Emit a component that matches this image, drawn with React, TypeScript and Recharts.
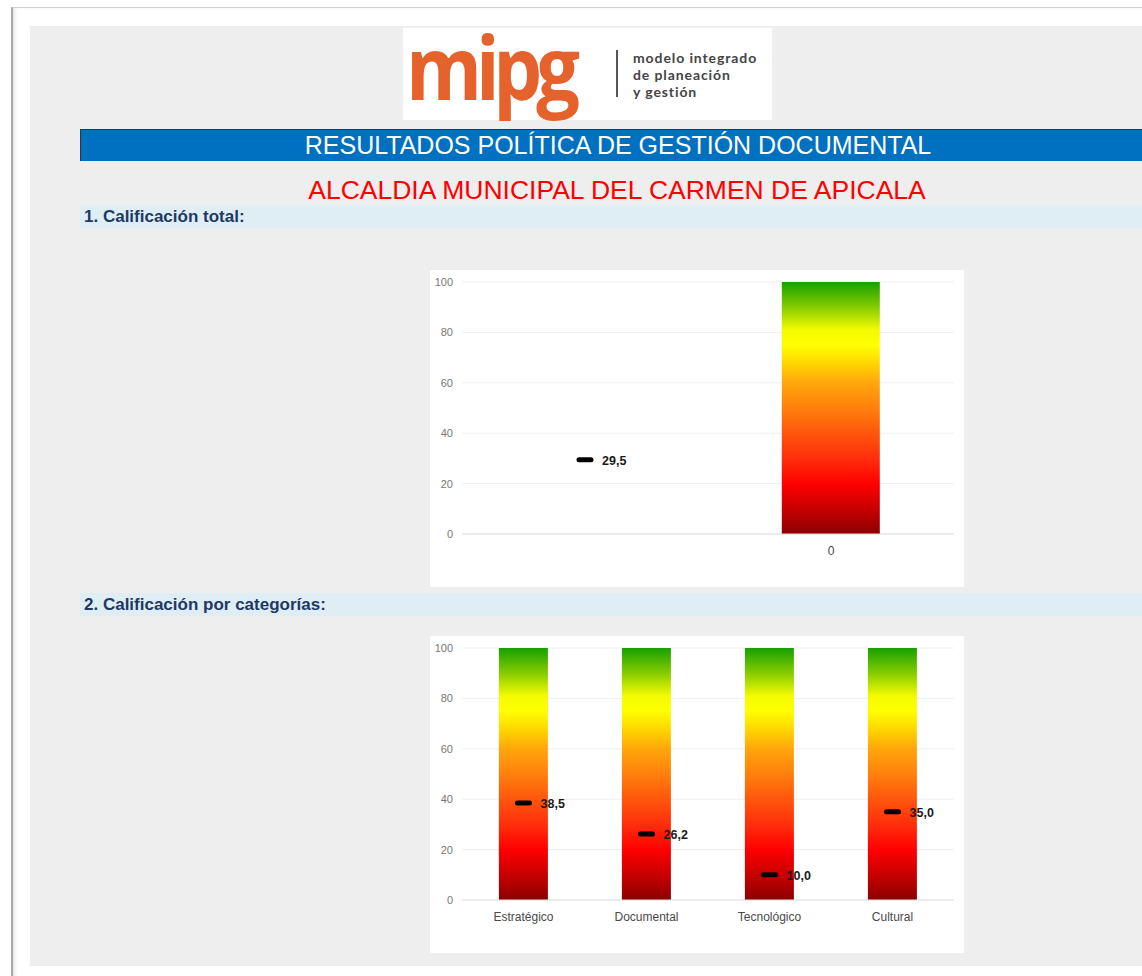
import React from "react"
import {
  Bar,
  CartesianGrid,
  ComposedChart,
  Line,
  XAxis,
  YAxis,
} from "recharts"

// 1. Calificación total
const totalCategories = ["", "0"]
const totalScale = [null, 100]
const totalScore = [29.5, null]

// 2. Calificación por categorías
const categoryNames = ["Estratégico", "Documental", "Tecnológico", "Cultural"]
const categoryScale = [100, 100, 100, 100]
const categoryScores = [38.5, 26.2, 10.0, 35.0]

const yTicks = [0, 20, 40, 60, 80, 100]

const totalData = totalCategories.map((name, i) => ({
  name,
  scale: totalScale[i],
  score: totalScore[i],
}))

const categoryData = categoryNames.map((name, i) => ({
  name,
  scale: categoryScale[i],
  score: categoryScores[i],
}))

const FONT = '"Liberation Sans", Arial, sans-serif'

const fmt = (v: number) => v.toFixed(1).replace(".", ",")

function ScoreMark(props: any) {
  const { cx, cy, value, index } = props
  if (value == null || cx == null || cy == null) return <g key={index} />
  return (
    <g key={index}>
      <rect x={cx - 8.5} y={cy - 2.5} width={17} height={5} rx={2.5} fill="#000" />
      <text
        x={cx + 17}
        y={cy + 5}
        fontFamily={FONT}
        fontSize={12.5}
        fontWeight="bold"
        fill="#1a1a1a"
      >
        {fmt(value)}
      </text>
    </g>
  )
}

function GaugeChart({ data, id }: { data: any[]; id: string }) {
  return (
    <ComposedChart
      width={534}
      height={317}
      data={data}
      margin={{ top: 12, right: 10, bottom: 23, left: 0 }}
      barCategoryGap="30%"
    >
      <defs>
        <linearGradient id={id} x1="0" y1="1" x2="0" y2="0">
          <stop offset="0%" stopColor="#8b0000" />
          <stop offset="10%" stopColor="#c80000" />
          <stop offset="20%" stopColor="#ff0000" />
          <stop offset="30%" stopColor="#ff2e0c" />
          <stop offset="40%" stopColor="#ff560c" />
          <stop offset="50%" stopColor="#ff800c" />
          <stop offset="60%" stopColor="#ffa60c" />
          <stop offset="68%" stopColor="#ffd800" />
          <stop offset="75%" stopColor="#ffff00" />
          <stop offset="81%" stopColor="#f4fb00" />
          <stop offset="90%" stopColor="#86cc00" />
          <stop offset="100%" stopColor="#17a000" />
        </linearGradient>
      </defs>
      <CartesianGrid vertical={false} stroke="#efefef" />
      <XAxis
        dataKey="name"
        axisLine={{ stroke: "#e0e0e0" }}
        tickLine={false}
        tickSize={0}
        tickMargin={12}
        height={30}
        tick={{ fill: "#4a4a4a", fontSize: 12, fontFamily: FONT }}
      />
      <YAxis
        domain={[0, 100]}
        ticks={yTicks}
        axisLine={false}
        tickLine={false}
        tickSize={0}
        tickMargin={9}
        width={32}
        tick={{ fill: "#777", fontSize: 11, fontFamily: FONT }}
      />
      <Bar dataKey="scale" fill={`url(#${id})`} isAnimationActive={false} />
      <Line
        dataKey="score"
        stroke="none"
        dot={ScoreMark}
        activeDot={false}
        isAnimationActive={false}
      />
    </ComposedChart>
  )
}

function SectionBar({ top, text }: { top: number; text: string }) {
  return (
    <div
      style={{
        position: "absolute",
        left: 80,
        top,
        width: 1062,
        height: 23,
        background: "#deeef4",
        fontFamily: FONT,
        fontWeight: "bold",
        fontSize: 17,
        color: "#1f3864",
        lineHeight: "23px",
        paddingLeft: 4,
        boxSizing: "border-box",
      }}
    >
      {text}
    </div>
  )
}

export default function App() {
  return (
    <div
      style={{
        position: "absolute",
        left: 0,
        top: 0,
        width: 1142,
        height: 976,
        background: "#fff",
        overflow: "hidden",
      }}
    >
      {/* page frame */}
      <div
        style={{
          position: "absolute",
          left: 11,
          top: 7,
          width: 1131,
          height: 969,
          borderTop: "1px solid #cfcfcf",
          borderLeft: "2px solid #a8a8a8",
          boxShadow: "inset 3px 0 4px -2px #d8d8d8",
        }}
      />
      {/* grey sheet */}
      <div
        style={{
          position: "absolute",
          left: 30,
          top: 26,
          width: 1112,
          height: 940,
          background: "#eeeeee",
        }}
      />
      {/* logo */}
      <div
        style={{
          position: "absolute",
          left: 403,
          top: 28,
          width: 369,
          height: 92,
          background: "#fff",
        }}
      >
        <div
          style={{
            position: "absolute",
            left: 3,
            top: -6,
            fontFamily: '"Open Sans", sans-serif',
            fontWeight: 700,
            fontSize: 88,
            letterSpacing: -7,
            color: "#e5622c",
            lineHeight: "88px",
            transform: "scaleX(0.88)",
            transformOrigin: "left center",
          }}
        >
          mipg
        </div>
        <div
          style={{
            position: "absolute",
            left: 213,
            top: 22,
            width: 2,
            height: 47,
            background: "#555",
          }}
        />
        <div
          style={{
            position: "absolute",
            left: 230,
            top: 21,
            fontFamily: "Lato, sans-serif",
            fontWeight: 700,
            fontSize: 14,
            letterSpacing: 0.9,
            color: "#444",
            lineHeight: "17px",
          }}
        >
          modelo integrado
          <br />
          de planeación
          <br />y gestión
        </div>
      </div>
      {/* banner */}
      <div
        style={{
          position: "absolute",
          left: 80,
          top: 129,
          width: 1062,
          height: 32,
          background: "#0070c0",
          borderTop: "1px solid #334",
          borderLeft: "1px solid #334",
          boxSizing: "border-box",
          color: "#fff",
          fontFamily: FONT,
          fontSize: 25,
          lineHeight: "31px",
          textAlign: "center",
          paddingLeft: 13,
        }}
      >
        RESULTADOS POLÍTICA DE GESTIÓN DOCUMENTAL
      </div>
      <div
        style={{
          position: "absolute",
          left: 80,
          top: 173,
          width: 1074,
          textAlign: "center",
          color: "#ff0000",
          fontFamily: FONT,
          fontSize: 26.5,
          lineHeight: "34px",
        }}
      >
        ALCALDIA MUNICIPAL DEL CARMEN DE APICALA
      </div>
      <SectionBar top={205} text="1. Calificación total:" />
      <div
        style={{
          position: "absolute",
          left: 430,
          top: 270,
          width: 534,
          height: 317,
          background: "#fff",
        }}
      >
        <GaugeChart data={totalData} id="gradTotal" />
      </div>
      <SectionBar top={593} text="2. Calificación por categorías:" />
      <div
        style={{
          position: "absolute",
          left: 430,
          top: 636,
          width: 534,
          height: 317,
          background: "#fff",
        }}
      >
        <GaugeChart data={categoryData} id="gradCat" />
      </div>
    </div>
  )
}
